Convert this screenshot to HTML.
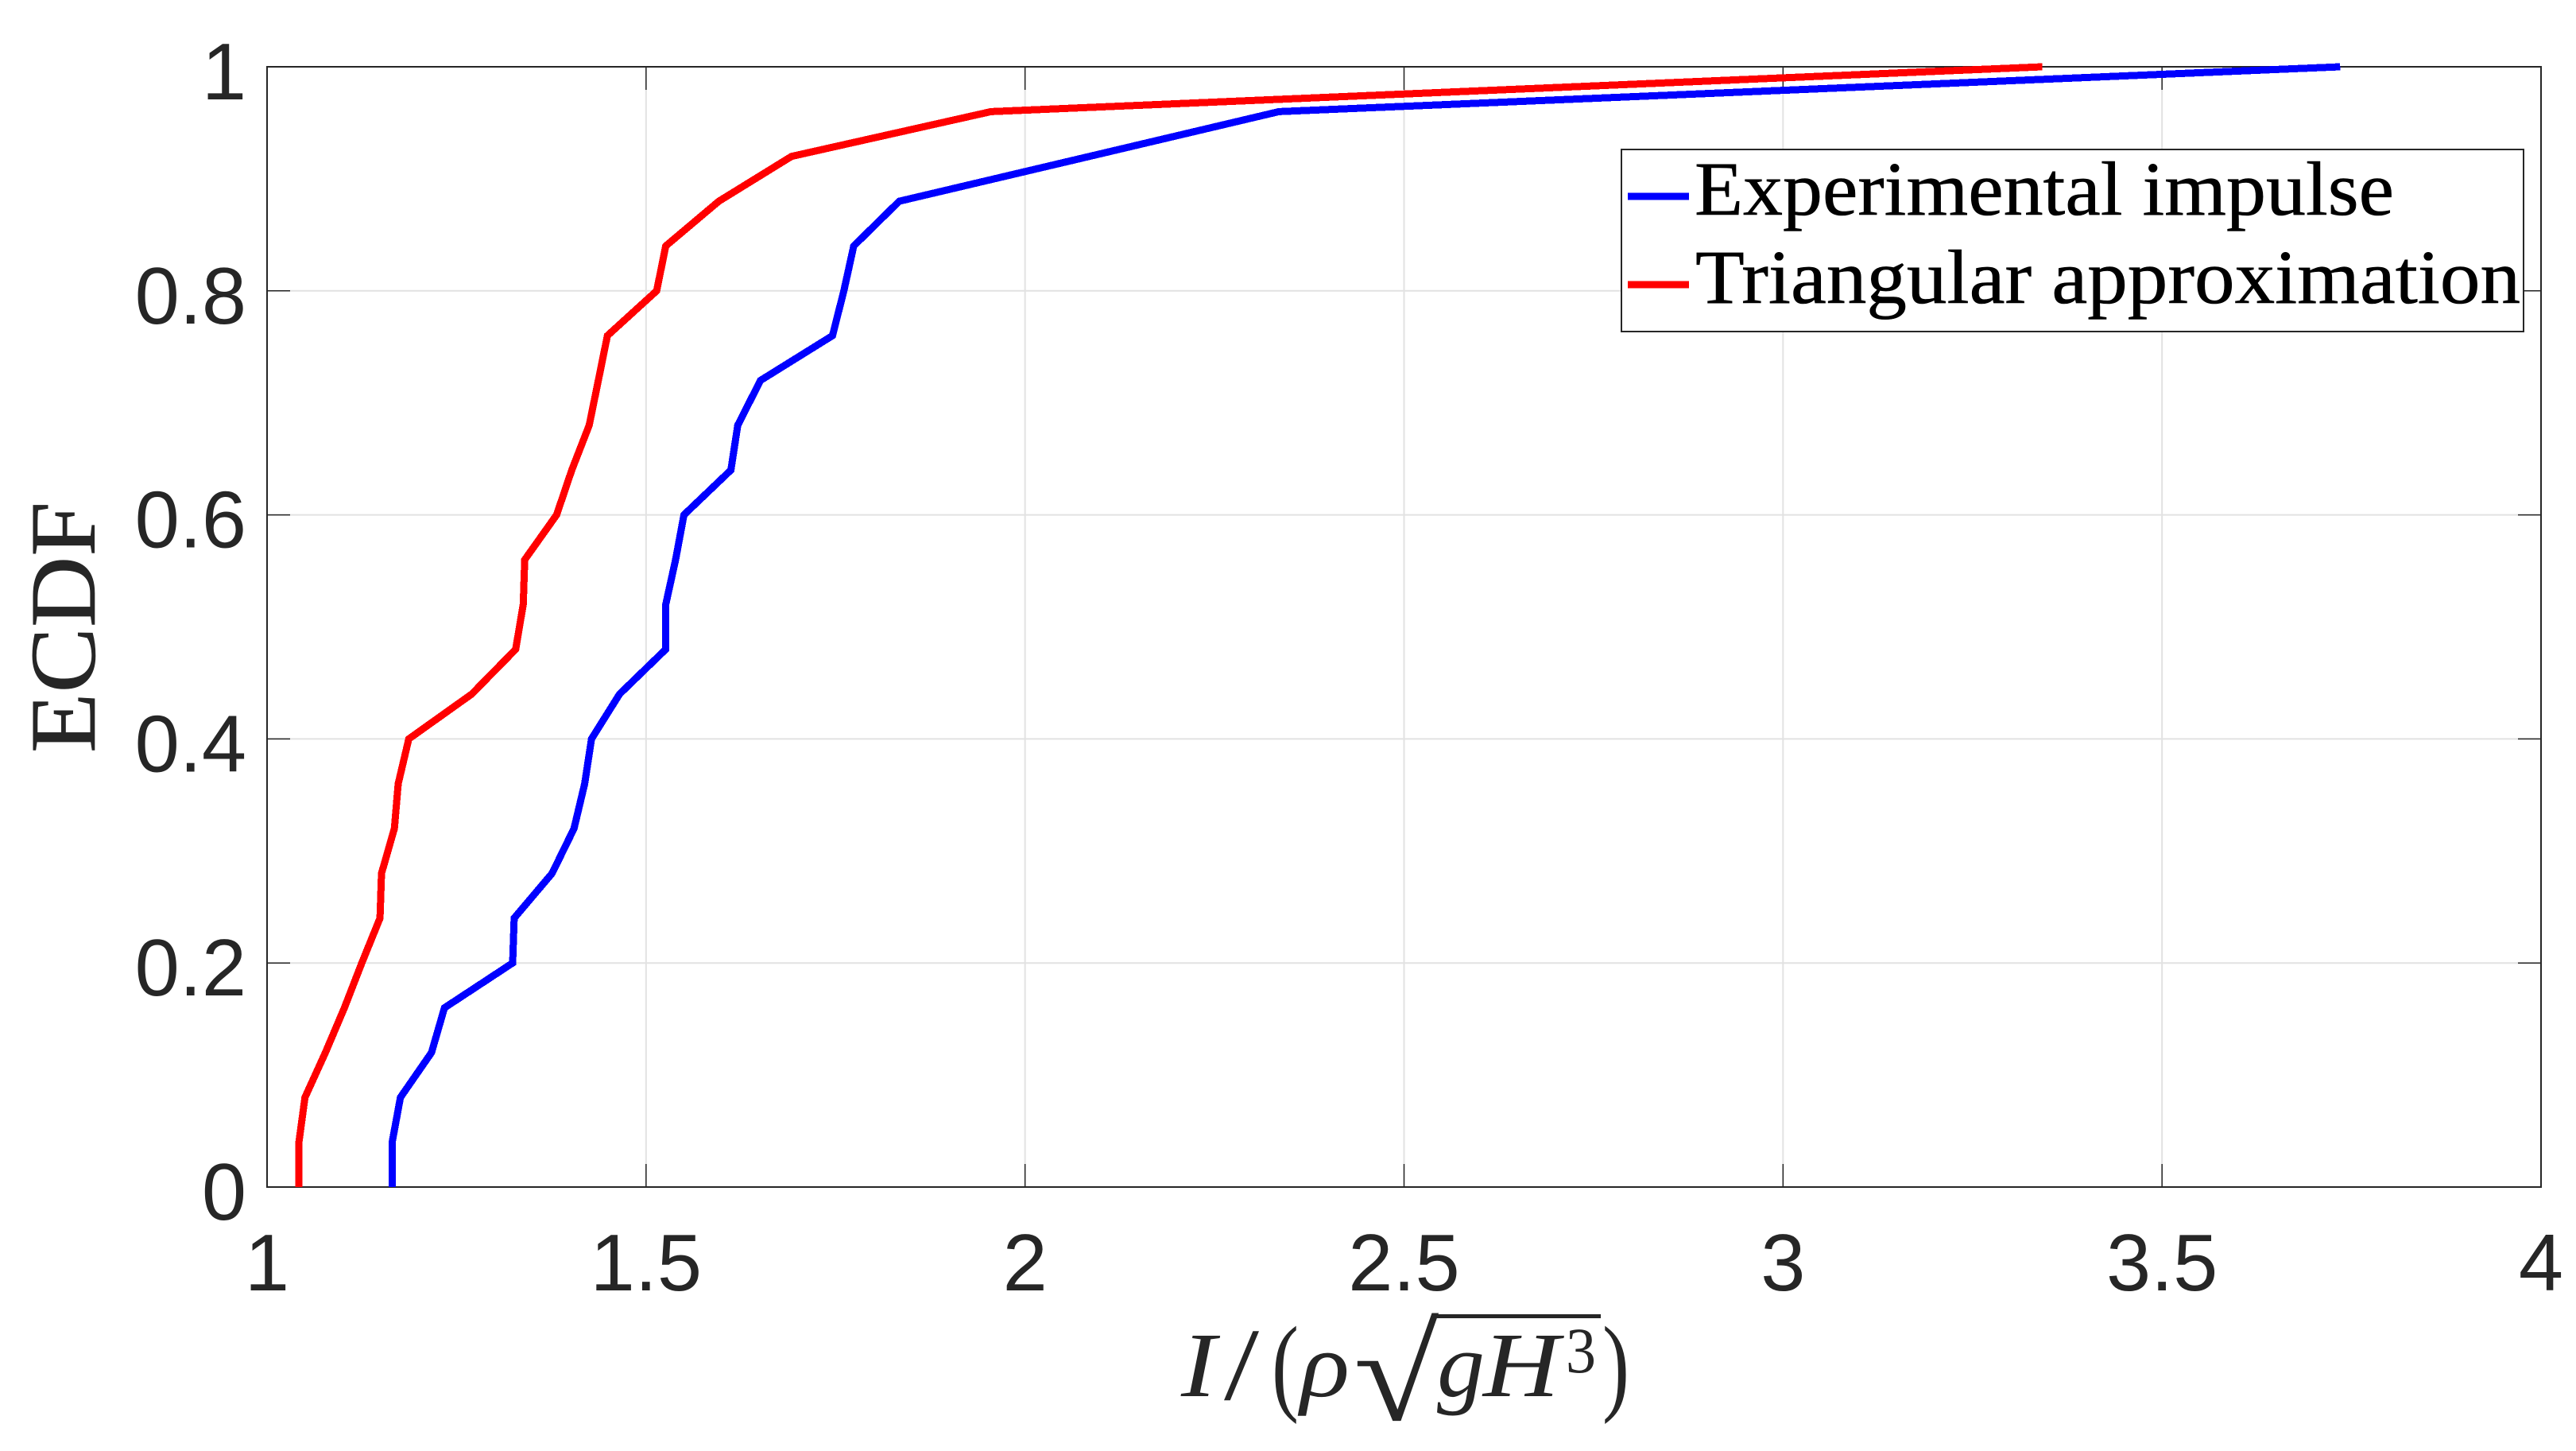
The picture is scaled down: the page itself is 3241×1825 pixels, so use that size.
<!DOCTYPE html>
<html lang="en">
<head>
<meta charset="utf-8">
<title>ECDF chart</title>
<style>
html,body{margin:0;padding:0;background:#fff;width:3241px;height:1825px;overflow:hidden}
svg{display:block}
.tick{font-family:"Liberation Sans",sans-serif;font-size:101px;fill:#262626}
.math{font-family:"Liberation Serif",serif;fill:#262626}
.legend-text{font-family:"Liberation Serif",serif;font-size:96px;fill:#000;stroke:#000;stroke-width:0.6px}
</style>
</head>
<body>
<svg id="chart" xmlns="http://www.w3.org/2000/svg" width="3241" height="1825" viewBox="0 0 3241 1825">
  <rect width="3241" height="1825" fill="#fff"/>
  <g id="grid"></g>
  <g id="ticks"></g>
  <rect x="336" y="84" width="2861" height="1409" fill="none" stroke="#262626" stroke-width="2"/>
  <g id="series"></g>
  <g id="tick-labels"></g>

  <text class="math" transform="translate(119 947) rotate(-90)" x="0" y="0" font-size="118" textLength="316" lengthAdjust="spacingAndGlyphs" stroke="#262626" stroke-width="0.6">ECDF</text>

  <g>
    <text class="math" font-style="italic" font-size="116" x="1486" y="1756" textLength="44" lengthAdjust="spacingAndGlyphs">I</text>
    <text class="math" font-size="130" x="1540" y="1760" textLength="44" lengthAdjust="spacingAndGlyphs">/</text>
    <text class="math" font-size="136" x="1600" y="1762" textLength="34" lengthAdjust="spacingAndGlyphs">(</text>
    <text class="math" font-style="italic" font-size="116" x="1636" y="1756" textLength="62" lengthAdjust="spacingAndGlyphs">ρ</text>
    <text class="math" font-size="170" transform="translate(1703 1786) scale(1.15 1)" x="0" y="0">√</text>
    <rect x="1807" y="1653" width="207" height="5" fill="#262626"/>
    <text class="math" font-style="italic" font-size="116" x="1808" y="1756" textLength="60" lengthAdjust="spacingAndGlyphs">g</text>
    <text class="math" font-style="italic" font-size="116" x="1866" y="1756" textLength="96" lengthAdjust="spacingAndGlyphs">H</text>
    <text class="math" font-size="82" x="1970" y="1726" textLength="38" lengthAdjust="spacingAndGlyphs">3</text>
    <text class="math" font-size="136" x="2016" y="1762" textLength="34" lengthAdjust="spacingAndGlyphs">)</text>
  </g>

  <g>
    <rect x="2040" y="188" width="1135" height="229" fill="#fff" stroke="#262626" stroke-width="2"/>
    <line x1="2048" x2="2125" y1="247" y2="247" stroke="#0000ff" stroke-width="9"/>
    <text class="legend-text" x="2132" y="270" textLength="880" lengthAdjust="spacingAndGlyphs">Experimental impulse</text>
    <line x1="2048" x2="2125" y1="358" y2="358" stroke="#ff0000" stroke-width="9"/>
    <text class="legend-text" x="2133" y="381" textLength="1038" lengthAdjust="spacingAndGlyphs">Triangular approximation</text>
  </g>
</svg>
<script>
const ecdfLevels = [0,0.04,0.08,0.12,0.16,0.2,0.24,0.28,0.32,0.36,0.4,0.44,0.48,0.52,0.56,0.6,0.64,0.68,0.72,0.76,0.8,0.84,0.88,0.92,0.96,1];
const experimentalImpulse = [1.165,1.165,1.176,1.217,1.234,1.324,1.326,1.376,1.405,1.419,1.428,1.465,1.526,1.526,1.539,1.55,1.612,1.621,1.651,1.746,1.761,1.774,1.834,2.085,2.335,3.735];
const triangularApproximation = [1.042,1.042,1.05,1.077,1.102,1.125,1.149,1.151,1.168,1.173,1.187,1.27,1.328,1.338,1.34,1.382,1.402,1.425,1.437,1.449,1.514,1.526,1.596,1.692,1.955,3.342];
const xTickValues = [1,1.5,2,2.5,3,3.5,4];
const xTickLabels = ["1","1.5","2","2.5","3","3.5","4"];
const yTickValues = [0,0.2,0.4,0.6,0.8,1];
const yTickLabels = ["0","0.2","0.4","0.6","0.8","1"];

const NS = "http://www.w3.org/2000/svg";
const plot = {left:336,right:3197,top:84,bottom:1493};
const domainX = [1,4];
const domainY = [0,1];
function xScale(v){return plot.left+(v-domainX[0])/(domainX[1]-domainX[0])*(plot.right-plot.left);}
function yScale(v){return plot.bottom-(v-domainY[0])/(domainY[1]-domainY[0])*(plot.bottom-plot.top);}
function makeLine(x1,y1,x2,y2,stroke,width){
  const l=document.createElementNS(NS,"line");
  l.setAttribute("x1",x1);l.setAttribute("y1",y1);l.setAttribute("x2",x2);l.setAttribute("y2",y2);
  l.setAttribute("stroke",stroke);l.setAttribute("stroke-width",width);
  return l;
}
const grid=document.getElementById("grid");
const ticks=document.getElementById("ticks");
const labels=document.getElementById("tick-labels");
const series=document.getElementById("series");

xTickValues.forEach(function(v,i){
  const x=xScale(v);
  if(i>0&&i<xTickValues.length-1){
    const g=makeLine(x,plot.top,x,plot.bottom,"#e2e2e2",2);
    
    
    grid.appendChild(g);
  }
  const t1=makeLine(x,plot.bottom,x,plot.bottom-29,"#262626",1.5);
  
  
  ticks.appendChild(t1);
  const t2=makeLine(x,plot.top,x,plot.top+29,"#262626",1.5);
  
  
  ticks.appendChild(t2);
  const t=document.createElementNS(NS,"text");
  
  
  t.setAttribute("class","tick");
  t.setAttribute("x",x);
  t.setAttribute("y",plot.bottom+130);
  t.setAttribute("text-anchor","middle");
  t.textContent=xTickLabels[i];
  labels.appendChild(t);
});
yTickValues.forEach(function(v,i){
  const y=yScale(v);
  if(i>0&&i<yTickValues.length-1){
    const g=makeLine(plot.left,y,plot.right,y,"#e2e2e2",2);
    
    
    grid.appendChild(g);
  }
  const t1=makeLine(plot.left,y,plot.left+29,y,"#262626",1.5);
  
  
  ticks.appendChild(t1);
  const t2=makeLine(plot.right,y,plot.right-29,y,"#262626",1.5);
  
  
  ticks.appendChild(t2);
  const t=document.createElementNS(NS,"text");
  
  
  t.setAttribute("class","tick");
  t.setAttribute("x",310);
  t.setAttribute("y",y+41);
  t.setAttribute("text-anchor","end");
  t.textContent=yTickLabels[i];
  labels.appendChild(t);
});
function pointsFor(values){
  return values.map(function(v,i){return xScale(v).toFixed(1)+","+yScale(ecdfLevels[i]).toFixed(1);}).join(" ");
}
const blueLine=document.createElementNS(NS,"polyline");


blueLine.setAttribute("points",pointsFor(experimentalImpulse));
blueLine.setAttribute("fill","none");
blueLine.setAttribute("stroke","#0000ff");
blueLine.setAttribute("stroke-width","9");
blueLine.setAttribute("stroke-linejoin","miter");
blueLine.setAttribute("shape-rendering","crispEdges");
series.appendChild(blueLine);
const redLine=document.createElementNS(NS,"polyline");


redLine.setAttribute("points",pointsFor(triangularApproximation));
redLine.setAttribute("fill","none");
redLine.setAttribute("stroke","#ff0000");
redLine.setAttribute("stroke-width","9");
redLine.setAttribute("stroke-linejoin","miter");
redLine.setAttribute("shape-rendering","crispEdges");
series.appendChild(redLine);
</script>
</body>
</html>
